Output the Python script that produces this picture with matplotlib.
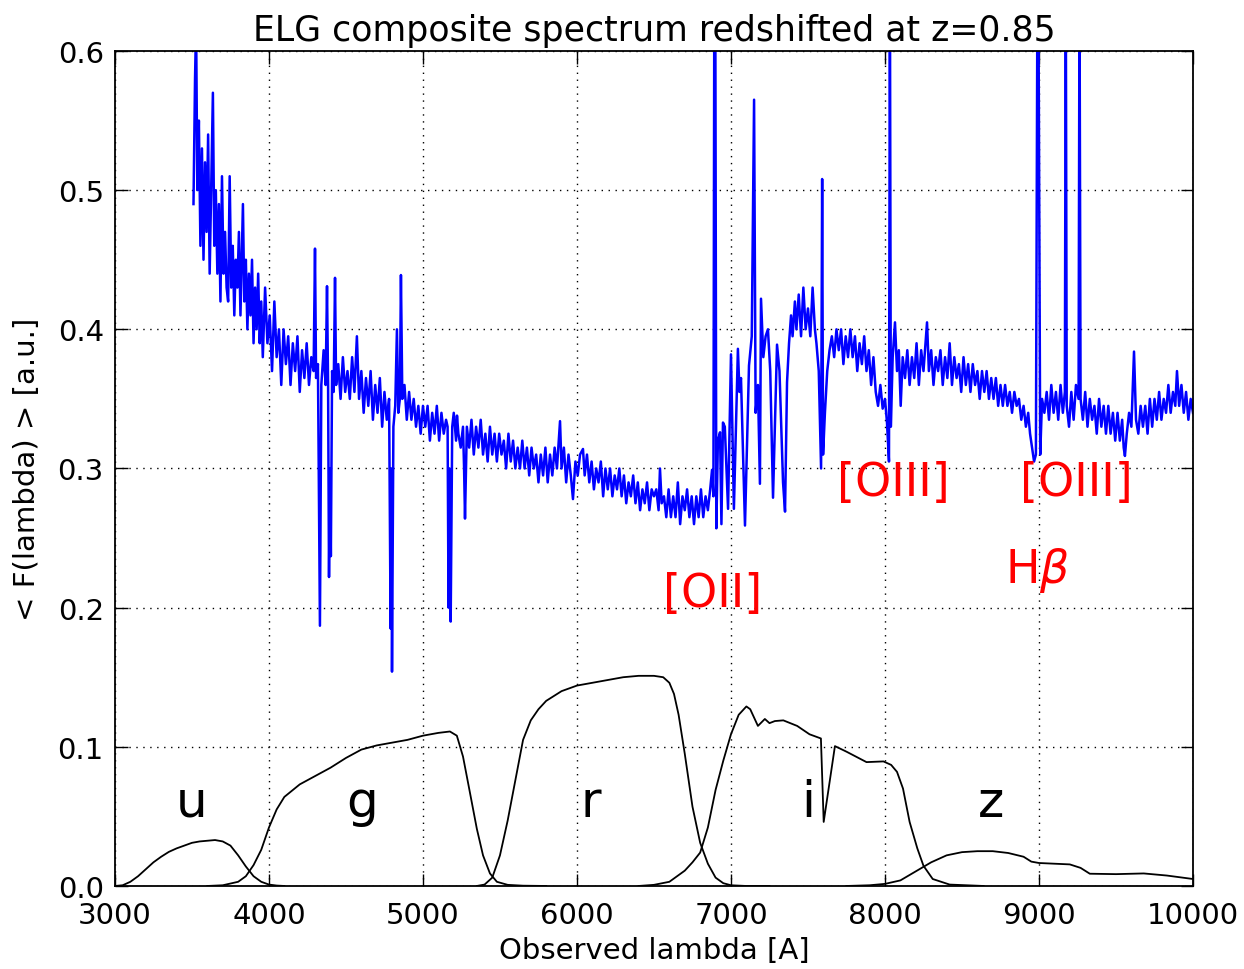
import matplotlib
matplotlib.use('Agg')
import matplotlib.pyplot as plt

plt.rcParams['font.family'] = 'DejaVu Sans'
plt.rcParams['mathtext.fontset'] = 'dejavusans'

# composite ELG spectrum, wavelength [A] / flux [a.u.]
spec_wave = [
    3510, 3520, 3527, 3535, 3545, 3555, 3565, 3575, 3585, 3595,
    3605, 3615, 3625, 3636, 3645, 3655, 3665, 3675, 3685, 3695,
    3705, 3715, 3725, 3735, 3745, 3755, 3765, 3775, 3785, 3795,
    3805, 3815, 3831, 3840, 3850, 3860, 3870, 3880, 3890, 3900,
    3910, 3920, 3930, 3940, 3950, 3960, 3975, 3990,
    4005, 4020, 4035, 4050, 4065, 4080, 4095, 4110, 4125, 4140,
    4155, 4170, 4185, 4200, 4215, 4230, 4245, 4260, 4275, 4290,
    4299, 4306, 4318, 4331, 4340, 4355, 4368, 4377, 4384, 4390,
    4396, 4402, 4410, 4420, 4429, 4436, 4450, 4465, 4480, 4495,
    4510, 4525, 4540, 4555, 4571, 4585, 4600, 4615, 4630, 4645,
    4660, 4675, 4690, 4705, 4720, 4735, 4750, 4765, 4780,
    4790, 4795, 4799, 4808, 4820, 4831, 4840, 4850, 4857, 4866,
    4880, 4895, 4910, 4925, 4940, 4955, 4970, 4985, 5000,
    5015, 5030, 5045, 5060, 5075, 5090, 5105, 5120, 5135, 5150,
    5160, 5166, 5172, 5180, 5190, 5200, 5215, 5221, 5230, 5245,
    5260, 5267, 5273, 5285, 5300, 5315, 5330, 5345, 5360, 5375,
    5390, 5405, 5420, 5435, 5450, 5465, 5480, 5495, 5510, 5525,
    5540, 5555, 5570, 5585, 5600,
    5615, 5630, 5645, 5660, 5675, 5690, 5705, 5720, 5735, 5750,
    5765, 5780, 5795, 5810, 5825, 5840, 5855, 5870, 5890, 5900,
    5915, 5930, 5945, 5960, 5974, 5990, 6005, 6020, 6039, 6050,
    6065, 6080, 6095, 6110, 6125, 6140, 6155, 6170, 6185, 6200,
    6215, 6230, 6245, 6260, 6275,
    6290, 6305, 6320, 6335, 6350, 6365, 6380, 6395, 6410, 6425,
    6440, 6455, 6470, 6485, 6500, 6515, 6530, 6539, 6550, 6565,
    6580, 6595, 6610, 6625, 6640, 6655, 6670, 6685, 6700, 6715,
    6730, 6745, 6760, 6775, 6790, 6805, 6820, 6835, 6850, 6865,
    6877, 6886,
    6892, 6898, 6905, 6915, 6929, 6938, 6948, 6960, 6981, 7000,
    7019, 7045, 7055, 7065, 7091, 7117, 7135, 7150, 7160, 7175,
    7188, 7195, 7210, 7225, 7240, 7255, 7273, 7299, 7315, 7338,
    7351, 7364,
    7377, 7390, 7400, 7415, 7425, 7440, 7455, 7470, 7485, 7500,
    7515, 7530, 7545, 7555, 7570, 7585, 7592, 7598, 7610, 7625,
    7640, 7655, 7670, 7685, 7700, 7715, 7730, 7745, 7760, 7775,
    7790, 7805, 7820, 7835, 7850, 7865, 7880, 7895, 7910, 7925,
    7940, 7955, 7970, 7985, 8000, 8013, 8026,
    8032, 8038, 8050, 8065, 8078, 8090, 8102, 8115, 8130, 8145,
    8160, 8175, 8190, 8205, 8220, 8235, 8250, 8273, 8285, 8300,
    8315, 8330, 8345, 8360, 8375, 8390, 8405, 8420, 8435, 8450,
    8465, 8480, 8495, 8510, 8525, 8540, 8555, 8570, 8585, 8600,
    8615, 8630, 8645, 8660, 8675, 8690, 8705, 8720, 8735, 8750,
    8765, 8780, 8795, 8810, 8825, 8840, 8855, 8870, 8885, 8900,
    8915, 8930, 8942, 8955, 8968, 8980,
    8990, 8996, 9008, 9020, 9035, 9050, 9065, 9080, 9095, 9110,
    9125, 9140, 9155, 9168, 9174, 9180, 9195, 9210, 9225, 9240,
    9257, 9263, 9270, 9285, 9300, 9315, 9330, 9345, 9360, 9375,
    9390, 9405, 9420, 9435, 9450, 9465, 9480, 9495, 9510, 9525,
    9540, 9550, 9558, 9570, 9585, 9600, 9617, 9630, 9645, 9660,
    9675, 9690, 9705, 9720, 9735, 9750, 9765, 9780, 9795, 9810,
    9825, 9840, 9855, 9870, 9885, 9896, 9910, 9925, 9940, 9955,
    9970, 9985, 10000,
]
spec_flux = [
    0.49, 0.58, 0.62, 0.50, 0.55, 0.46, 0.53, 0.45, 0.52, 0.47,
    0.54, 0.44, 0.50, 0.57, 0.46, 0.50, 0.44, 0.49, 0.42, 0.51,
    0.44, 0.47, 0.43, 0.42, 0.51, 0.43, 0.46, 0.41, 0.45, 0.43,
    0.47, 0.41, 0.49, 0.42, 0.45, 0.40, 0.44, 0.41, 0.45, 0.39,
    0.43, 0.40, 0.44, 0.39, 0.42, 0.38, 0.43, 0.39,
    0.41, 0.37, 0.42, 0.38, 0.40, 0.36, 0.40, 0.375, 0.395, 0.36,
    0.39, 0.37, 0.395, 0.355, 0.385, 0.365, 0.39, 0.36, 0.38, 0.37,
    0.458, 0.365, 0.375, 0.187, 0.36, 0.385, 0.36, 0.431, 0.36, 0.222,
    0.30, 0.237, 0.37, 0.355, 0.437, 0.36, 0.375, 0.35, 0.38, 0.355,
    0.37, 0.35, 0.38, 0.355, 0.395, 0.35, 0.37, 0.34, 0.365, 0.345,
    0.37, 0.335, 0.36, 0.34, 0.365, 0.33, 0.355, 0.335, 0.35,
    0.185, 0.30, 0.154, 0.33, 0.345, 0.40, 0.34, 0.35, 0.439, 0.35,
    0.36, 0.335, 0.355, 0.335, 0.35, 0.33, 0.345, 0.325, 0.345,
    0.33, 0.345, 0.32, 0.34, 0.325, 0.345, 0.32, 0.34, 0.325, 0.335,
    0.33, 0.20, 0.30, 0.19, 0.33, 0.34, 0.32, 0.338, 0.325, 0.315,
    0.33, 0.30, 0.264, 0.33, 0.315, 0.335, 0.31, 0.33, 0.315, 0.335,
    0.31, 0.325, 0.305, 0.33, 0.31, 0.325, 0.305, 0.325, 0.31, 0.32,
    0.30, 0.325, 0.305, 0.32, 0.30,
    0.315, 0.30, 0.32, 0.30, 0.315, 0.295, 0.315, 0.30, 0.31, 0.29,
    0.31, 0.295, 0.315, 0.29, 0.31, 0.295, 0.315, 0.30, 0.334, 0.30,
    0.315, 0.29, 0.31, 0.295, 0.278, 0.305, 0.295, 0.31, 0.314, 0.295,
    0.31, 0.29, 0.305, 0.285, 0.30, 0.29, 0.305, 0.28, 0.30, 0.285,
    0.30, 0.28, 0.295, 0.285, 0.30,
    0.28, 0.295, 0.275, 0.29, 0.28, 0.295, 0.275, 0.29, 0.27, 0.285,
    0.275, 0.29, 0.27, 0.285, 0.28, 0.285, 0.27, 0.30, 0.275, 0.28,
    0.265, 0.285, 0.265, 0.28, 0.265, 0.29, 0.26, 0.28, 0.27, 0.285,
    0.265, 0.28, 0.26, 0.28, 0.265, 0.285, 0.265, 0.28, 0.27, 0.285,
    0.299, 0.28,
    0.65, 0.65, 0.257, 0.32, 0.326, 0.26, 0.333, 0.33, 0.271, 0.382,
    0.271, 0.386, 0.355, 0.365, 0.259, 0.374, 0.395, 0.565, 0.34, 0.36,
    0.289, 0.422, 0.38, 0.395, 0.40, 0.37, 0.279, 0.389, 0.37, 0.29,
    0.269, 0.362,
    0.39, 0.41, 0.395, 0.42, 0.40, 0.425, 0.395, 0.43, 0.40, 0.415,
    0.395, 0.43, 0.40, 0.39, 0.37, 0.30, 0.508, 0.31, 0.34, 0.37,
    0.385, 0.395, 0.38, 0.40, 0.385, 0.40, 0.375, 0.395, 0.38, 0.40,
    0.38, 0.395, 0.37, 0.39, 0.375, 0.395, 0.37, 0.385, 0.36, 0.38,
    0.355, 0.345, 0.36, 0.343, 0.35, 0.333, 0.305,
    0.65, 0.33, 0.38, 0.405, 0.37, 0.385, 0.345, 0.38, 0.365, 0.385,
    0.36, 0.38, 0.365, 0.39, 0.36, 0.385, 0.37, 0.405, 0.37, 0.385,
    0.36, 0.38, 0.37, 0.385, 0.36, 0.38, 0.365, 0.39, 0.36, 0.38,
    0.365, 0.375, 0.355, 0.38, 0.36, 0.375, 0.355, 0.375, 0.36, 0.37,
    0.35, 0.37, 0.355, 0.37, 0.35, 0.365, 0.35, 0.365, 0.345, 0.36,
    0.345, 0.36, 0.345, 0.355, 0.34, 0.355, 0.345, 0.35, 0.335, 0.345,
    0.33, 0.34, 0.325, 0.315, 0.305, 0.31,
    0.65, 0.65, 0.31, 0.35, 0.34, 0.355, 0.335, 0.36, 0.34, 0.355,
    0.335, 0.36, 0.34, 0.355, 0.65, 0.345, 0.33, 0.355, 0.335, 0.36,
    0.35, 0.65, 0.35, 0.335, 0.355, 0.33, 0.35, 0.335, 0.345, 0.325,
    0.35, 0.33, 0.345, 0.325, 0.345, 0.325, 0.34, 0.32, 0.34, 0.32,
    0.335, 0.315, 0.309, 0.325, 0.34, 0.33, 0.384, 0.335, 0.325, 0.345,
    0.33, 0.345, 0.325, 0.35, 0.33, 0.35, 0.335, 0.355, 0.335, 0.35,
    0.34, 0.36, 0.34, 0.355, 0.345, 0.37, 0.345, 0.36, 0.34, 0.355,
    0.335, 0.35, 0.34,
]

# SDSS-like filter transmission curves
u_wave = [3000, 3050, 3100, 3150, 3200, 3250, 3300, 3350, 3400, 3450, 3500, 3550,
          3600, 3650, 3700, 3750, 3800, 3850, 3900, 3950, 4000, 4050, 4100]
u_trans = [0, 0.0005, 0.003, 0.007, 0.012, 0.017, 0.021, 0.0245, 0.027, 0.029, 0.031, 0.032,
           0.0325, 0.033, 0.032, 0.029, 0.022, 0.014, 0.007, 0.003, 0.001, 0.0003, 0]
g_wave = [3600, 3700, 3800, 3850, 3900, 3950, 4000, 4050, 4100, 4200, 4300, 4400, 4500,
          4600, 4700, 4800, 4900, 5000, 5100, 5175, 5220, 5260, 5300, 5350, 5390, 5435,
          5480, 5550, 5650, 5800]
g_trans = [0, 0.0005, 0.003, 0.007, 0.015, 0.026, 0.042, 0.055, 0.064, 0.073, 0.079, 0.085, 0.092,
           0.098, 0.101, 0.103, 0.105, 0.108, 0.110, 0.111, 0.108, 0.093, 0.07, 0.041, 0.022, 0.009,
           0.003, 0.0008, 0.0002, 0]
r_wave = [5350, 5400, 5450, 5500, 5550, 5600, 5650, 5700, 5750, 5800, 5900, 6000, 6100,
          6200, 6300, 6400, 6500, 6560, 6600, 6630, 6660, 6700, 6750, 6800, 6850, 6900,
          6950, 7000, 7100, 7250]
r_trans = [0, 0.001, 0.006, 0.022, 0.047, 0.076, 0.105, 0.119, 0.127, 0.133, 0.140, 0.144, 0.146,
           0.148, 0.150, 0.151, 0.151, 0.150, 0.146, 0.138, 0.123, 0.095, 0.057, 0.031, 0.016, 0.006,
           0.002, 0.0005, 0, 0]
i_wave = [6400, 6500, 6600, 6700, 6750, 6800, 6850, 6900, 6950, 7000, 7050, 7100, 7125,
          7175, 7220, 7250, 7285, 7340, 7430, 7510, 7584, 7602, 7675, 7750, 7880, 7990,
          8040, 8078, 8117, 8160, 8210, 8250, 8310, 8420, 8640]
i_trans = [0, 0.0008, 0.003, 0.011, 0.017, 0.024, 0.042, 0.069, 0.09, 0.109, 0.123, 0.129, 0.127,
           0.115, 0.120, 0.117, 0.1185, 0.119, 0.115, 0.109, 0.106, 0.046, 0.1005, 0.0965, 0.089, 0.0895,
           0.087, 0.082, 0.07, 0.046, 0.027, 0.0145, 0.005, 0.001, 0]
z_wave = [7750, 7900, 8000, 8100, 8200, 8300, 8400, 8500, 8600, 8700, 8800, 8900, 8950,
          9000, 9100, 9200, 9270, 9330, 9500, 9680, 9830, 10000]
z_trans = [0, 0.0005, 0.0015, 0.004, 0.0105, 0.017, 0.022, 0.0243, 0.025, 0.025, 0.0237, 0.021, 0.0175,
           0.0165, 0.016, 0.0155, 0.013, 0.0088, 0.0085, 0.009, 0.0075, 0.005]

band_names = ['u', 'g', 'r', 'i', 'z']
band_label_x = [3500, 4604, 6091, 7500, 8688]

line_names = ['[OII]', '[OIII]', '[OIII]', r'H$\beta$']
line_label_x = [6883, 8055, 9243, 8987]
line_label_y = [0.201, 0.281, 0.281, 0.2184]

fig = plt.figure(figsize=(12.44, 9.70), dpi=100)
ax = fig.add_axes([0.0924, 0.0856, 0.8666, 0.8608])

ax.plot(spec_wave, spec_flux, color='#0000ff', lw=1.8)
for w, t in [(u_wave, u_trans), (g_wave, g_trans), (r_wave, r_trans),
             (i_wave, i_trans), (z_wave, z_trans)]:
    ax.plot(w, t, color='black', lw=1.3)

for name, x in zip(band_names, band_label_x):
    ax.text(x, 0.0503, name, fontsize=36, ha='center', va='baseline')
for name, x, y in zip(line_names, line_label_x, line_label_y):
    ax.text(x, y, name, fontsize=33, color='#ff0000', ha='center', va='baseline')

ax.set_xlim(3000, 10000)
ax.set_ylim(0, 0.6)
ax.set_xticks(range(3000, 10001, 1000))
ax.set_yticks([0.0, 0.1, 0.2, 0.3, 0.4, 0.5, 0.6])
ax.set_yticklabels(['%.1f' % v for v in [0.0, 0.1, 0.2, 0.3, 0.4, 0.5, 0.6]])
ax.grid(True, color='black', linestyle=(0, (1, 4)), linewidth=1.0)
ax.tick_params(direction='in', top=True, right=True, length=9, width=1.0,
               labelsize=21)
ax.tick_params(axis='x', pad=11)
ax.tick_params(axis='y', pad=8)
for s in ax.spines.values():
    s.set_linewidth(1.3)

ax.set_title('ELG composite spectrum redshifted at z=0.85', fontsize=25, pad=8)
ax.set_xlabel('Observed lambda [A]', fontsize=21, labelpad=5)
ax.set_ylabel('< F(lambda) > [a.u.]', fontsize=21, labelpad=12)

fig.savefig('out.png', dpi=100)
